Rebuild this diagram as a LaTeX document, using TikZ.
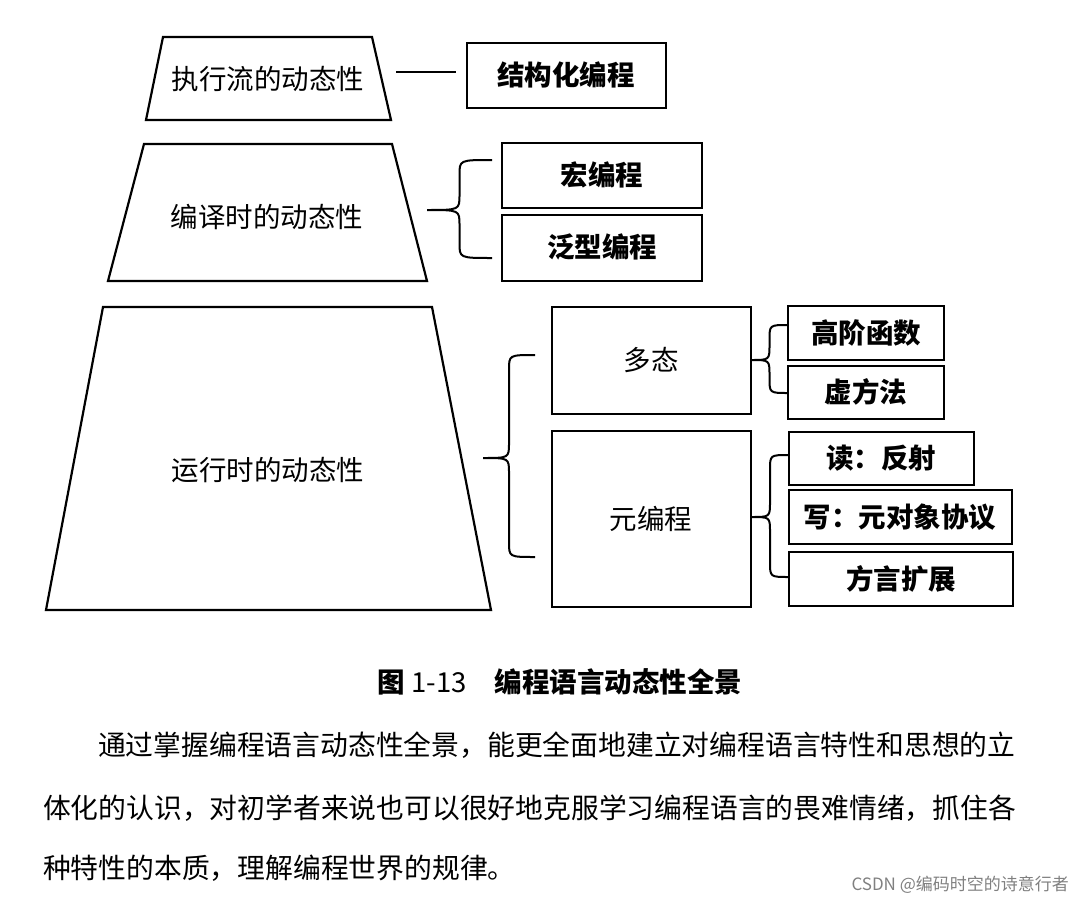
\documentclass[tikz,border=0pt]{standalone}
\usepackage{fontspec}
\setmainfont{Noto Sans CJK SC}
\begin{document}
\begin{tikzpicture}[x=1pt,y=-1pt,line width=2.2pt,
  lb/.style={font=\fontsize{27.5}{30}\selectfont},
  bl/.style={font=\fontsize{27.5}{30}\selectfont\bfseries},
  tx/.style={font=\fontsize{27.8}{30}\selectfont,anchor=west,inner sep=0}]
\useasboundingbox (0,0) rectangle (1074,902);
\newcommand\brc[5]{\draw[line width=2pt] (#3,#4) .. controls ({(#1+#3)/2},#4) .. ({(#1+#3)/2},#4+15) -- ({(#1+#3)/2},#2-15) .. controls ({(#1+#3)/2},#2) .. (#1,#2) .. controls ({(#1+#3)/2},#2) .. ({(#1+#3)/2},#2+15) -- ({(#1+#3)/2},#5-15) .. controls ({(#1+#3)/2},#5) .. (#3,#5);}
% trapezoids
\draw (163,37) -- (372,37) -- (391,120) -- (146,120) -- cycle;
\node[lb] (t1) at (268,79) {执行流的动态性};
\draw (144,144) -- (392,144) -- (427,281) -- (108,281) -- cycle;
\node[lb] (t2) at (267,217) {编译时的动态性};
\draw (103,307) -- (432,307) -- (491,610) -- (46,610) -- cycle;
\node[lb] (t3) at (268,470) {运行时的动态性};
% level 1
\draw (467,43) rectangle (666,108); \node[bl] (a) at (566,75) {结构化编程};
\coordinate (l1) at (396,72); \coordinate (l2) at (456,72);
\draw (l1) -- (l2);
% level 2
\draw (502,143) rectangle (702,208); \node[bl] (b1) at (602,175) {宏编程};
\draw (502,215) rectangle (702,281); \node[bl] (b2) at (602,247) {泛型编程};
\brc{427}{210}{492}{160}{258}
% level 3
\draw (552,307) rectangle (751,414); \node[lb] (c1) at (651,360) {多态};
\draw (552,431) rectangle (751,607); \node[lb] (c2) at (651,519) {元编程};
\brc{483}{458}{535}{355}{557}
\draw (788,306) rectangle (944,360); \node[bl] (d1) at (866,333) {高阶函数};
\draw (788,366) rectangle (944,419); \node[bl] (d2) at (866,392) {虚方法};
\brc{751}{360}{788}{325}{393}
\draw (789,432) rectangle (974,485); \node[bl] (e1) at (881,458) {读：反射};
\draw (789,490) rectangle (1012,544); \node[bl] (e2) at (900,517) {写：元对象协议};
\draw (789,552) rectangle (1013,606); \node[bl] (e3) at (901,579) {方言扩展};
\brc{751}{517}{789}{455}{577}
% caption and text
\node[bl] (cap) at (560,682) {图 {\mdseries 1-13}\quad 编程语言动态性全景};
\node[tx] (p1) at (97,745) {通过掌握编程语言动态性全景，能更全面地建立对编程语言特性和思想的立};
\node[tx] (p2) at (42,808) {体化的认识，对初学者来说也可以很好地克服学习编程语言的畏难情绪，抓住各};
\node[tx] (p3) at (42,868) {种特性的本质，理解编程世界的规律。};
\node[font=\fontsize{17}{19}\selectfont,text=gray,anchor=east,inner sep=0] (w) at (1070,885) {CSDN @编码时空的诗意行者};
\end{tikzpicture}
\end{document}
